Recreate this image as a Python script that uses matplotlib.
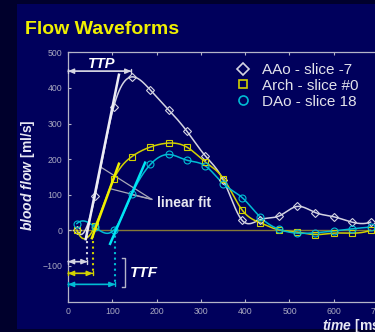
import matplotlib
matplotlib.use("Agg")
import matplotlib.pyplot as plt
from matplotlib.lines import Line2D
from matplotlib.patches import Rectangle
import numpy as np

# sample times [ms] and flow [ml/s]
t_ms = [20, 61, 103, 144, 186, 227, 268, 310, 351, 393, 434, 476, 517, 558, 600, 641, 683]
aao = [0, 95, 346, 431, 394, 339, 279, 209, 140, 28, 30, 40, 67, 50, 38, 23, 23]
arch = [0, 12, 143, 207, 234, 245, 234, 192, 145, 57, 21, 1, -5, -12, -8, -8, 0]
dao = [19, 9, 0, 101, 185, 213, 197, 181, 130, 92, 37, 3, -8, -7, -2, 4, 9]

labels = ["AAo - slice -7", "Arch - slice #0", "DAo - slice 18"]

# linear fits of the upslope: (t0, y0, t1, y1)
fit_aao = [40, -25, 115, 437]
fit_arch = [54, -22, 115, 187]
fit_dao = [95, -38, 174, 190]

# time to foot [ms] and the level of each TTF arrow
ttf = [44, 56, 107]
ttf_level = [-88, -121, -152]
ttp = 143
ttp_level = 447

plt.rcParams["font.family"] = ["Liberation Sans", "DejaVu Sans"]
plt.rcParams["mathtext.fontset"] = "custom"
plt.rcParams["mathtext.it"] = "Liberation Sans:italic:bold"
plt.rcParams["mathtext.rm"] = "Liberation Sans:bold"
plt.rcParams["mathtext.bf"] = "Liberation Sans:bold"

BG_DARK = "#00002c"
BG = "#00005c"
WHITE = "#d4d4e2"
YELLOW = "#d2d200"
CYAN = "#00bcd4"
GRID = "#b4b4c8"


def spline(x, y, xs):
    # cubic spline, not-a-knot ends
    x = np.asarray(x, float)
    y = np.asarray(y, float)
    n = len(x)
    h = np.diff(x)
    d = np.diff(y) / h
    A = np.zeros((n, n))
    r = np.zeros(n)
    A[0, 0], A[0, 1], A[0, 2] = -h[1], h[0] + h[1], -h[0]
    for i in range(1, n - 1):
        A[i, i - 1] = h[i - 1]
        A[i, i] = 2 * (h[i - 1] + h[i])
        A[i, i + 1] = h[i]
        r[i] = 6 * (d[i] - d[i - 1])
    A[-1, -3], A[-1, -2], A[-1, -1] = -h[-1], h[-2] + h[-1], -h[-2]
    M = np.linalg.solve(A, r)
    k = np.clip(np.searchsorted(x, xs) - 1, 0, n - 2)
    hk = h[k]
    a = x[k + 1] - xs
    b = xs - x[k]
    return (M[k] * a**3 / (6 * hk) + M[k + 1] * b**3 / (6 * hk)
            + (y[k] / hk - M[k] * hk / 6) * a + (y[k + 1] / hk - M[k + 1] * hk / 6) * b)


fig = plt.figure(figsize=(3.75, 3.32), dpi=100)
fig.patch.set_facecolor(BG_DARK)
fig.patches.append(Rectangle((17 / 375, 3 / 332), 1, 325 / 332, transform=fig.transFigure,
                             facecolor=BG, edgecolor="none", zorder=-5))

ax = fig.add_axes([68 / 375, 30.5 / 332, 354.4 / 375, 249.2 / 332])
ax.set_facecolor("none")
ax.set_xlim(0, 800)
ax.set_ylim(-200, 500)
ax.set_xticks(range(0, 801, 100))
ax.set_yticks(range(-100, 501, 100))
ax.tick_params(direction="in", length=2.5, width=0.8, colors=GRID, labelcolor="#a8a8c0",
               labelsize=6.3, top=True, pad=4)
for side in ["left", "top", "bottom"]:
    ax.spines[side].set_color(GRID)
    ax.spines[side].set_linewidth(0.9)
ax.spines["right"].set_visible(False)

ax.axhline(0, color="#857838", lw=1, zorder=1)

tt = np.linspace(t_ms[0], t_ms[-1], 400)
series = [(aao, WHITE, "D", 4.5, fit_aao), (arch, YELLOW, "s", 4.5, fit_arch),
          (dao, CYAN, "o", 5, fit_dao)]
fit_colors = ["#ececf4", "#f0f000", "#00e4f4"]
handles = []
for (vals, col, mk, ms, fit), fcol in zip(series, fit_colors):
    ax.plot(tt, spline(t_ms, vals, tt), color=col, lw=1.1, zorder=3)
    ax.plot(t_ms, vals, ls="none", marker=mk, ms=ms, mfc="none", mec=col, mew=0.8, zorder=4)
    ax.plot([fit[0], fit[2]], [fit[1], fit[3]], color=fcol, lw=1.8, zorder=5)
    handles.append(Line2D([], [], ls="none", marker=mk, ms=ms + 1.5, mfc="none", mec=col, mew=1.2))

# TTF markers
for x, lev, col in zip(ttf, ttf_level, [WHITE, YELLOW, CYAN]):
    ax.plot([x, x], [0, lev], ls=":", lw=1.5, color=col, zorder=3)
    ax.annotate("", xy=(x, lev), xytext=(0, lev),
                arrowprops=dict(arrowstyle="<|-|>,head_length=0.35,head_width=0.15",
                                color=col, lw=1, shrinkA=0, shrinkB=0))
    ax.annotate("", xy=(x, lev), xytext=(0, lev),
                arrowprops=dict(arrowstyle="|-|,widthA=0.15,widthB=0.15",
                                color=col, lw=1, shrinkA=0, shrinkB=0))

ax.plot([121, 129, 129, 121], [-77, -77, -159, -159], color=GRID, lw=1, zorder=3)
ax.text(140, -120, "TTF", color="white", fontsize=11, fontweight="bold", fontstyle="italic",
        va="center", ha="left")

# TTP marker
ax.annotate("", xy=(ttp, ttp_level), xytext=(0, ttp_level),
            arrowprops=dict(arrowstyle="<|-|>,head_length=0.35,head_width=0.15",
                            color=WHITE, lw=1, shrinkA=0, shrinkB=0))
ax.annotate("", xy=(ttp, ttp_level), xytext=(0, ttp_level),
            arrowprops=dict(arrowstyle="|-|,widthA=0.15,widthB=0.15",
                            color=WHITE, lw=1, shrinkA=0, shrinkB=0))
ax.text(76, 468, "TTP", color="white", fontsize=10.5, fontweight="bold", fontstyle="italic",
        va="center", ha="center")

# linear fit callout
for px, py in [(76, 176), (98, 116), (144, 100)]:
    ax.plot([189, px], [87, py], color="#a8a8b8", lw=0.9, zorder=2)
ax.text(200, 78, "linear fit", color="#e8e8f0", fontsize=10, fontweight="bold",
        va="center", ha="left")

ax.legend(handles, labels, loc="upper left", bbox_to_anchor=(235 / 375, 1 - 63 / 332),
          bbox_transform=fig.transFigure, frameon=False, fontsize=11, labelcolor="#e2e2ea",
          handlelength=1.0, handletextpad=0.8, labelspacing=0.12, borderpad=0,
          borderaxespad=0)

fig.text(25 / 375, 1 - 30 / 332, "Flow Waveforms", color="#f0f000", fontsize=14,
         fontweight="bold", va="center", ha="left")
fig.text(28 / 375, 1 - 175 / 332, r"$\mathit{blood\ flow}$ [ml/s]", rotation=90, color="#e8e8f4",
         fontsize=10, fontweight="bold", va="center", ha="center")
fig.text(322 / 375, 1 - 326 / 332, r"$\mathit{time}$ [ms]", color="#e8e8f4", fontsize=10,
         fontweight="bold", va="center", ha="left")

fig.savefig("out.png", dpi=100, facecolor=fig.get_facecolor())
